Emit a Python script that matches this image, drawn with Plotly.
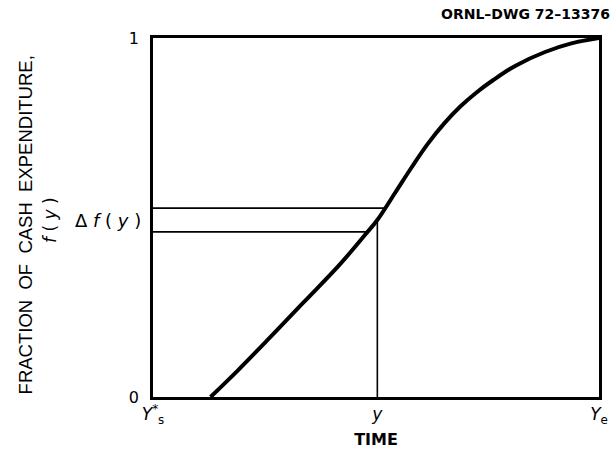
import plotly.graph_objects as go

# Curve f(y): fraction of cash expenditure vs. normalized time
curve_x = [0.129, 0.191, 0.264, 0.338, 0.418, 0.477, 0.503, 0.543, 0.580, 0.616,
           0.653, 0.689, 0.726, 0.763, 0.813, 0.879, 0.938, 1.0]
curve_y = [0.0, 0.075, 0.168, 0.264, 0.368, 0.454, 0.493, 0.569, 0.640, 0.705,
           0.762, 0.809, 0.849, 0.883, 0.923, 0.961, 0.985, 1.0]

# Construction lines
y_pos = 0.503          # time y
f_at_y = 0.493         # f(y) at time y
f_upper = 0.526        # upper bound of delta f(y)
f_upper_x = 0.518
f_lower = 0.460        # lower bound of delta f(y)
f_lower_x = 0.481

y_tickvals = [0, 1]
y_ticktext = ["0", "1"]
x_tickvals = [0.0, y_pos, 1.0]
x_ticktext = ["<i>Y</i><sup>*</sup><sub>s</sub>", "<i>y</i>", "<i>Y</i><sub>e</sub>"]

fig = go.Figure()
fig.add_trace(go.Scatter(x=curve_x, y=curve_y, mode="lines",
                         line=dict(color="black", width=4, shape="spline", smoothing=1.0),
                         hoverinfo="skip"))
# vertical line at y
fig.add_trace(go.Scatter(x=[y_pos, y_pos], y=[0, f_at_y], mode="lines",
                         line=dict(color="black", width=1.6), hoverinfo="skip"))
# horizontal lines
fig.add_trace(go.Scatter(x=[0, f_upper_x], y=[f_upper, f_upper], mode="lines",
                         line=dict(color="black", width=1.8), hoverinfo="skip"))
fig.add_trace(go.Scatter(x=[0, f_lower_x], y=[f_lower, f_lower], mode="lines",
                         line=dict(color="black", width=1.8), hoverinfo="skip"))

fig.add_annotation(x=0, y=(f_upper + f_lower) / 2, xref="x", yref="y",
                   text="Δ\u00a0<i>f</i>\u00a0(\u00a0<i>y</i>\u00a0)", showarrow=False,
                   xanchor="right", xshift=-10,
                   font=dict(family="DejaVu Sans", size=18, color="black"))
fig.add_annotation(x=1.0, y=1.0, xref="paper", yref="paper", yshift=34,
                   text="<b>ORNL–DWG 72–13376</b>", showarrow=False,
                   xanchor="right", yanchor="top", xshift=13,
                   font=dict(family="DejaVu Sans", size=14, color="black"))
fig.add_annotation(x=0, y=0.478, xref="paper", yref="paper", xshift=-128,
                   text="FRACTION\u00a0\u00a0OF\u00a0\u00a0CASH\u00a0\u00a0EXPENDITURE,",
                   showarrow=False, textangle=-90, xanchor="center", yanchor="middle",
                   font=dict(family="Liberation Sans", size=18.5, color="black"))
fig.add_annotation(x=0, y=(f_upper + f_lower) / 2, xref="paper", yref="y", xshift=-103,
                   text="<i>f</i>\u00a0(\u00a0<i>y</i>\u00a0)", showarrow=False,
                   textangle=-90, xanchor="center", yanchor="middle",
                   font=dict(family="DejaVu Sans", size=17, color="black"))

fig.update_layout(
    width=615, height=454,
    margin=dict(l=153, r=7, t=38, b=57),
    paper_bgcolor="white", plot_bgcolor="white",
    showlegend=False,
    font=dict(family="DejaVu Sans", color="black"),
    xaxis=dict(range=[0, 1], showgrid=False, zeroline=False,
               showline=True, mirror=True, linecolor="black", linewidth=2.5,
               tickvals=x_tickvals, ticktext=x_ticktext,
               ticks="outside", ticklen=0, tickcolor="rgba(0,0,0,0)",
               tickfont=dict(size=17, family="DejaVu Sans"),
               title=dict(text="<b>TIME</b>", font=dict(size=16), standoff=9)),
    yaxis=dict(range=[0, 1], showgrid=False, zeroline=False,
               showline=True, mirror=True, linecolor="black", linewidth=2.5,
               tickvals=y_tickvals, ticktext=y_ticktext,
               ticks="outside", ticklen=8, tickcolor="rgba(0,0,0,0)",
               tickfont=dict(size=16, family="DejaVu Sans")),
)

fig.write_html("out.html")
